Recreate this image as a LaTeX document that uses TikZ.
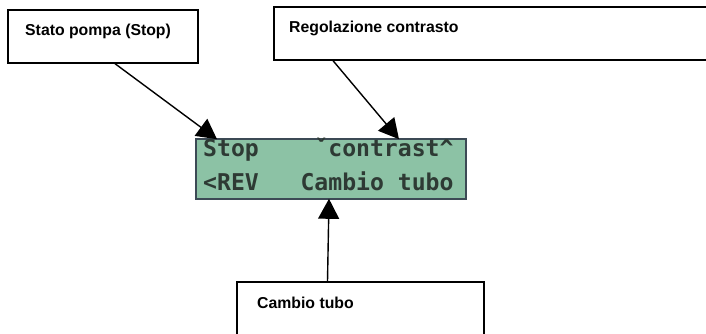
\documentclass[tikz,border=0pt]{standalone}
\usepackage{fontspec}
\setmainfont{Liberation Sans}
\newfontfamily\lcdfont{DejaVu Sans Mono}
\usetikzlibrary{arrows.meta}
\definecolor{lcdgreen}{HTML}{8CC2A5}
\definecolor{lcdedge}{HTML}{3C4A55}
\definecolor{lcdtext}{HTML}{2E3A34}
\tikzset{
  box/.style={draw=black, line width=1.3pt, fill=white, inner sep=0pt},
  lbl/.style={font=\fontsize{15.8}{18}\selectfont\bfseries, inner sep=0pt, anchor=west},
  lcdbox/.style={draw=lcdedge, line width=1.6pt, fill=lcdgreen, inner sep=0pt,
    minimum width=270pt, minimum height=60pt},
  lcdline/.style={font=\lcdfont\fontsize{23.1}{26}\selectfont\bfseries, text=lcdtext, inner sep=0pt, anchor=base west},
  pointer/.style={draw=black, line width=1.4pt, -{Triangle[length=20pt,width=21pt]}}
}
\begin{document}
\begin{tikzpicture}[x=1pt,y=-1pt]
\useasboundingbox (0,0) rectangle (706,333);
\begin{scope}
\clip (0,0) rectangle (706,333);
% label boxes
\node[box, minimum width=190pt, minimum height=53pt] (box1) at (103,36.5) {};
\node[lbl] (t1) at (25,31) {Stato pompa (Stop)};
\node[box, minimum width=460pt, minimum height=53pt] (box2) at (504,33.5) {};
\node[lbl] (t2) at (289,28.5) {Regolazione contrasto};
\node[box, minimum width=247pt, minimum height=60pt] (box3) at (360.5,312) {};
\node[lbl] (t3) at (257,303) {Cambio tubo};
% LCD
\node[lcdbox] (lcd) at (331,169) {};
\node[lcdline] (r1) at (203,156) {Stop\phantom{0000}ˇcontrast\char"5E};
\node[lcdline] (r2) at (203,190) {<REV\phantom{000}Cambio tubo};
% pointers
\coordinate (tip1) at ([xshift=-114pt,yshift=-1pt]lcd.north);
\coordinate (tip2) at ([xshift=68pt,yshift=-1pt]lcd.north);
\coordinate (tip3) at ([xshift=-2pt,yshift=1pt]lcd.south);
\draw[pointer] ([xshift=12pt]box1.south) -- (tip1);
\draw[pointer] ([xshift=-171pt]box2.south) -- (tip2);
\draw[pointer] ([xshift=-33pt]box3.north) -- (tip3);
\end{scope}
\end{tikzpicture}
\end{document}
